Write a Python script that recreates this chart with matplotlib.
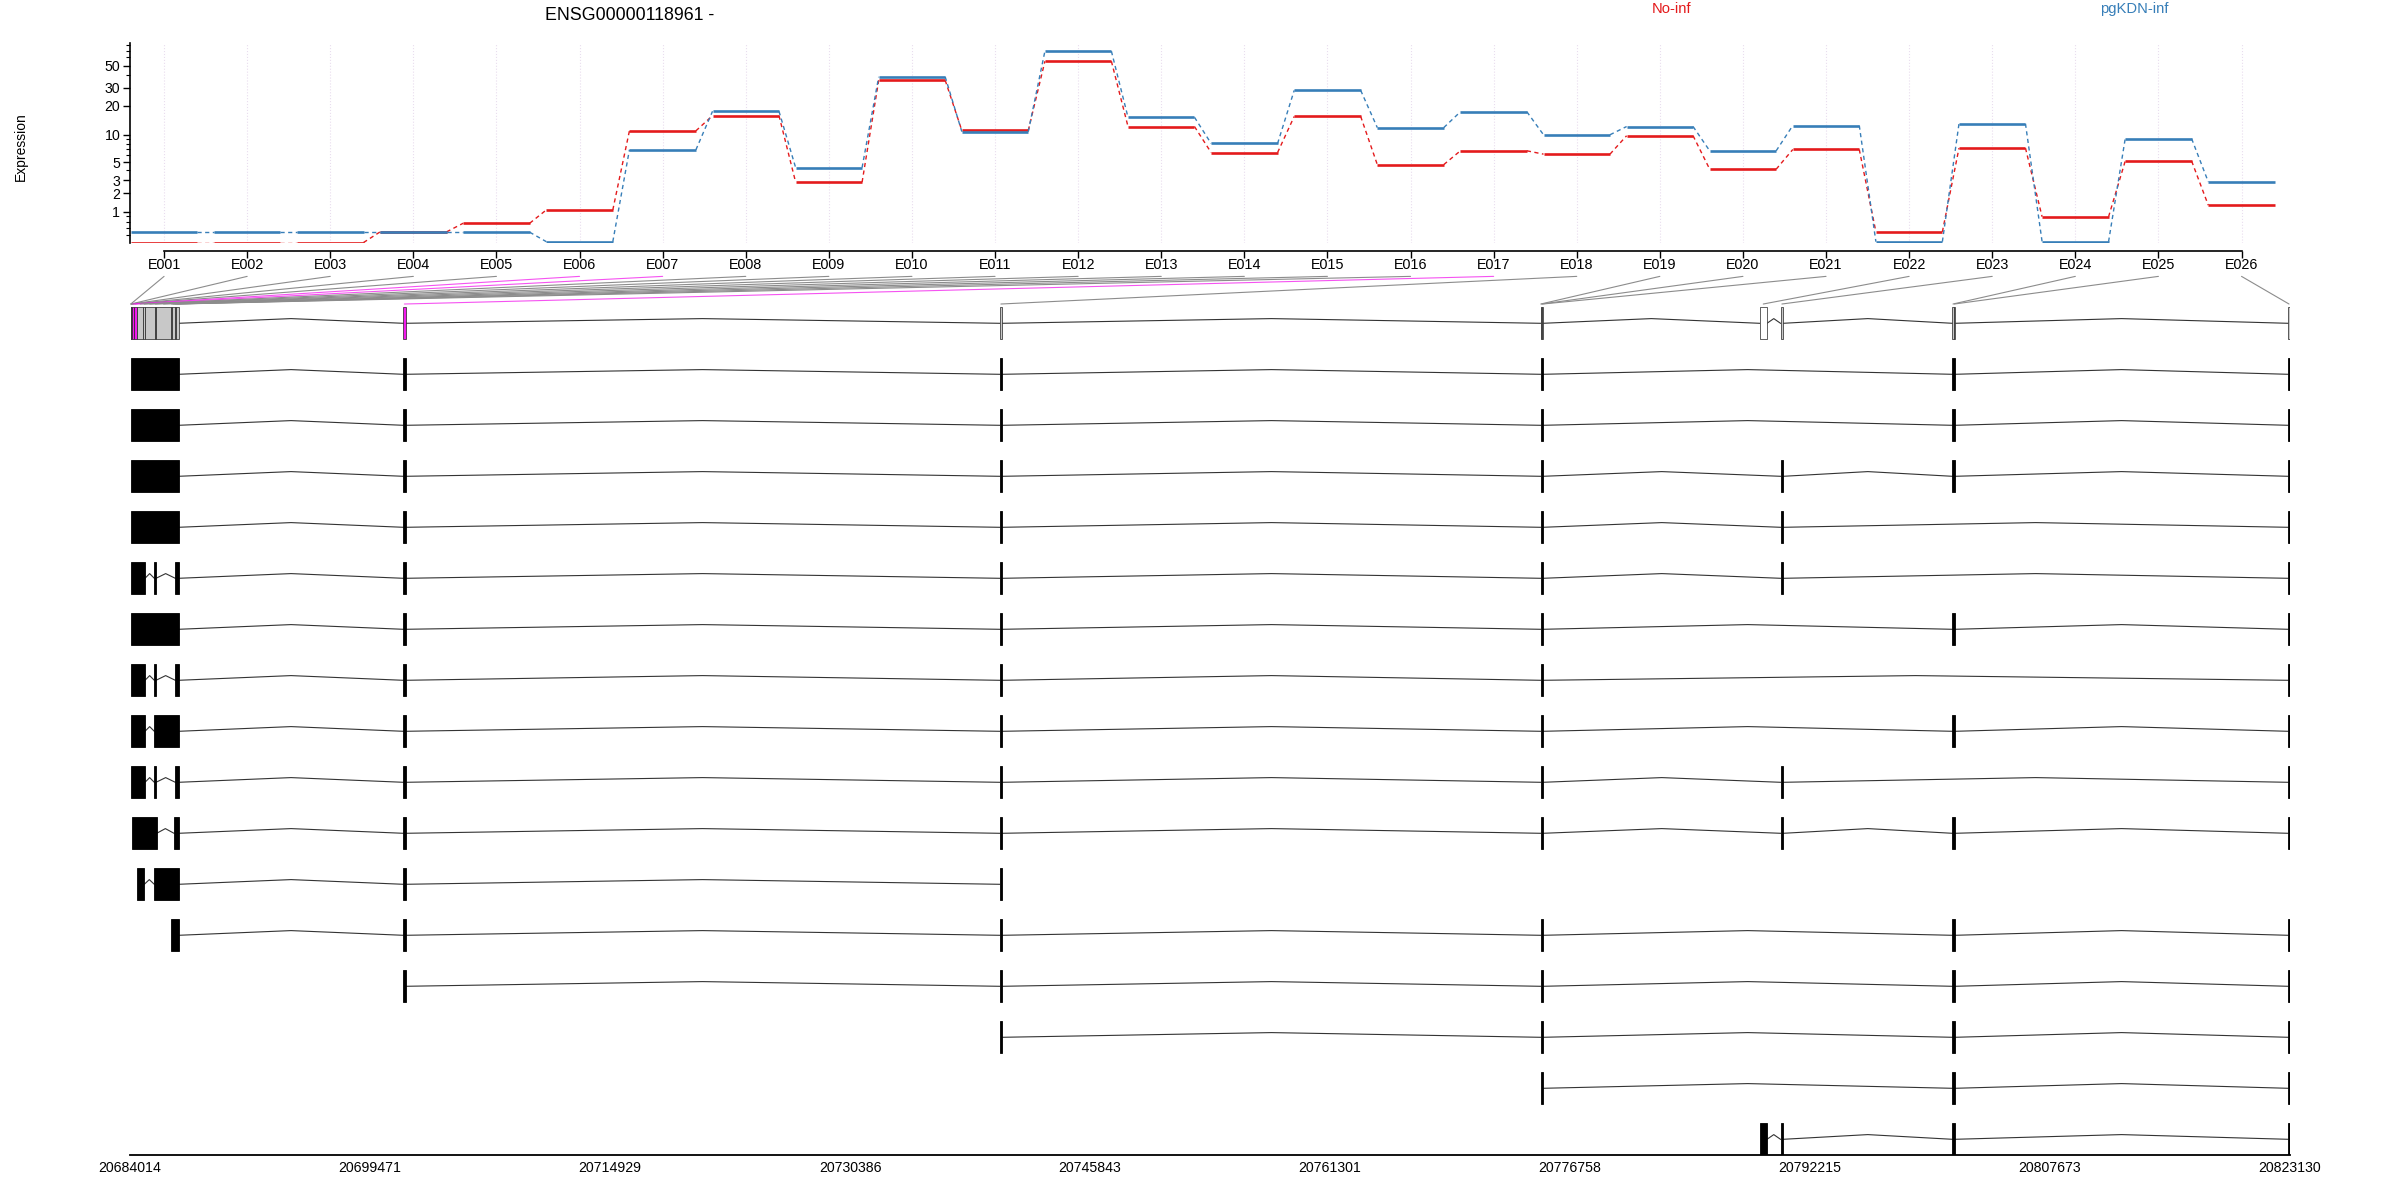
import numpy as np
import matplotlib.pyplot as plt
from matplotlib import font_manager
from matplotlib.patches import Rectangle, ConnectionPatch
from matplotlib.transforms import blended_transform_factory

plt.rcParams['font.family'] = ['Liberation Sans', 'DejaVu Sans']

# the reference text is a little condensed; use the narrow cut when present
avail = {f.name for f in font_manager.fontManager.ttflist}
if 'Liberation Sans Narrow' in avail:
    NARROW, K = ['Liberation Sans Narrow', 'DejaVu Sans'], 1.18
else:
    NARROW, K = ['Liberation Sans', 'DejaVu Sans'], 1.0

# fitted expression per exonic part
exons = ["E%03d" % i for i in range(1, 27)]
no_inf = [0.01, 0.01, 0.01, 0.28, 0.55, 1.08, 11.0, 15.8, 2.85, 35.8, 11.1, 55.1, 12.2,
          6.42, 15.5, 4.68, 6.71, 6.16, 9.76, 4.13, 6.94, 0.28, 7.19, 0.79, 5.13, 1.31]
pgkdn_inf = [0.27, 0.27, 0.27, 0.27, 0.27, 0.03, 6.88, 17.5, 4.32, 38.7, 10.8, 69.1, 15.2,
             8.07, 28.4, 11.9, 17.3, 10.0, 12.2, 6.71, 12.5, 0.03, 13.05, 0.03, 9.07, 2.87]
significant = ["E006", "E007", "E017"]
untested = ["E022"]

# genomic span of each exonic part
part_start = [20684059, 20684070, 20684081, 20684092, 20684103, 20684115, 20684270,
              20684446, 20684883, 20684967, 20685624, 20685676, 20686680, 20686719,
              20686912, 20686951, 20701616, 20740015, 20774859, 20774900, 20774960,
              20788964, 20790316, 20801381, 20801470, 20823002]
part_end = [20684070, 20684081, 20684092, 20684103, 20684115, 20684270, 20684446,
            20684883, 20684967, 20685624, 20685676, 20686680, 20686719, 20686912,
            20686951, 20687151, 20701758, 20740195, 20774900, 20774960, 20775020,
            20789447, 20790497, 20801470, 20801555, 20823130]

# transcript exons
tx_exons = {
    "full": (20684059, 20687151), "a": (20684059, 20684980), "b": (20685579, 20685689),
    "c": (20686932, 20687151), "d": (20685579, 20687151), "r10": (20684143, 20685734),
    "r10c": (20686848, 20687151), "r11": (20684446, 20684935), "r12": (20686655, 20687151),
    "B": (20701616, 20701758), "C": (20740015, 20740195), "D": (20774859, 20775020),
    "E": (20788964, 20789447), "F": (20790316, 20790497), "G": (20801381, 20801555),
    "H": (20823002, 20823130),
}
transcripts = [
    ["full", "B", "C", "D", "G", "H"],
    ["full", "B", "C", "D", "G", "H"],
    ["full", "B", "C", "D", "F", "G", "H"],
    ["full", "B", "C", "D", "F", "H"],
    ["a", "b", "c", "B", "C", "D", "F", "H"],
    ["full", "B", "C", "D", "G", "H"],
    ["a", "b", "c", "B", "C", "D", "H"],
    ["a", "d", "B", "C", "D", "G", "H"],
    ["a", "b", "c", "B", "C", "D", "F", "H"],
    ["r10", "r10c", "B", "C", "D", "F", "G", "H"],
    ["r11", "d", "B", "C"],
    ["r12", "B", "C", "D", "G", "H"],
    ["B", "C", "D", "G", "H"],
    ["C", "D", "G", "H"],
    ["D", "G", "H"],
    ["E", "F", "G", "H"],
]

gene_start, gene_end = 20684014, 20823130
gene_ticks = [20684014, 20699471, 20714929, 20730386, 20745843,
              20761301, 20776758, 20792215, 20807673, 20823130]

RED = "#E41A1C"
BLUE = "#377EB8"
MAGENTA = "#F219ED"

W, H = 2400, 1180
fig = plt.figure(figsize=(W / 100, H / 100), dpi=100)

# ---------------- expression panel ----------------
ax = fig.add_axes([130 / W, 1 - 243 / H, 2145.6 / W, 200 / H])
fwd = lambda v: np.log10(np.clip(v, 0, None) + 1)
inv = lambda u: 10 ** u - 1
ax.set_yscale('function', functions=(fwd, inv))
ax.set_xlim(0.59, 26.41)
ax.set_ylim(0, 83)

xs = np.arange(1, len(exons) + 1)
for i in xs:
    ax.axvline(i, color="#E9DDEE", ls=":", lw=0.8, zorder=0)
for vals, col in [(no_inf, RED), (pgkdn_inf, BLUE)]:
    for k, x in enumerate(xs):
        ax.plot([x - 0.4, x + 0.4], [vals[k], vals[k]], color=col, lw=1.9, solid_capstyle='butt')
        if k < len(xs) - 1:
            ax.plot([x + 0.4, x + 0.6], [vals[k], vals[k + 1]], color=col, lw=1.0,
                    ls=(0, (3, 2.5)))

ax.set_yticks([1, 2, 3, 5, 10, 20, 30, 50])
ax.set_yticklabels(["1", "2", "3", "5", "10", "20", "30", "50"], family=NARROW)
ax.set_yticks([0.2, 0.4, 0.6, 0.8, 4, 6, 7, 8, 9, 40, 60, 70, 80], minor=True)
ax.set_xticks(xs)
ax.set_xticklabels(exons, family=NARROW)
ax.tick_params(axis='x', length=5, width=1, labelsize=10.4 * K, pad=0)
ax.tick_params(axis='y', which='major', length=5, width=1, labelsize=10.2 * K, pad=2)
ax.tick_params(axis='y', which='minor', length=3, width=0.8)
for s in ["top", "right"]:
    ax.spines[s].set_visible(False)
ax.spines["bottom"].set_position(("outward", 6))
ax.spines["bottom"].set_bounds(1, 26)
ax.spines["bottom"].set_linewidth(1.2)
ax.spines["left"].set_linewidth(1.2)

fig.text(630 / W, 1 - 16 / H, "ENSG00000118961 -", ha="center", va="center",
         fontsize=12.8 * K, family=NARROW)
fig.text(1672 / W, 1 - 9 / H, "No-inf", color=RED, ha="center", va="center",
         fontsize=10.6 * K, family=NARROW)
fig.text(2134 / W, 1 - 9 / H, "pgKDN-inf", color=BLUE, ha="center", va="center",
         fontsize=10.6 * K, family=NARROW)
fig.text(21 / W, 1 - 147 / H, "Expression", rotation=90, ha="center", va="center", fontsize=10)

# ---------------- gene model panel ----------------
gx = fig.add_axes([130 / W, 1 - 1155 / H, 2160 / W, 885 / H])
gx.set_xlim(gene_start, gene_end)
gx.set_ylim(16.308, -1.045)
for s in ["top", "right", "left"]:
    gx.spines[s].set_visible(False)
gx.spines["bottom"].set_linewidth(1.3)
gx.set_yticks([])
gx.set_xticks(gene_ticks)
gx.set_xticklabels([str(t) for t in gene_ticks])
gx.tick_params(axis='x', length=0, labelsize=10.2, pad=4)

half = 0.314
peak = 0.092


def draw_introns(blocks, y):
    for (s0, e0), (s1, e1) in zip(blocks[:-1], blocks[1:]):
        mid = (e0 + s1) / 2
        gx.plot([e0, mid, s1], [y, y - peak, y], color="#333333", lw=0.8, zorder=1)


# row 0: collapsed exonic parts
blocks = []
for s, e in zip(part_start, part_end):
    if blocks and s == blocks[-1][1]:
        blocks[-1] = (blocks[-1][0], e)
    else:
        blocks.append((s, e))
draw_introns(blocks, 0)
for name, s, e in zip(exons, part_start, part_end):
    fc = MAGENTA if name in significant else ("white" if name in untested else "#C8C8C8")
    gx.add_patch(Rectangle((s, -half), e - s, 2 * half, facecolor=fc,
                           edgecolor="#222222", lw=0.5, zorder=2))

# transcripts
for r, tx in enumerate(transcripts, start=1):
    tb = [tx_exons[k] for k in tx]
    draw_introns(tb, r)
    for s, e in tb:
        gx.add_patch(Rectangle((s, r - half), e - s, 2 * half, facecolor="black",
                               edgecolor="black", lw=0.6, zorder=2))

# connectors from exon labels to genomic positions
top_tr = blended_transform_factory(ax.transData, gx.transData)
for k, name in enumerate(exons):
    mid = (part_start[k] + part_end[k]) / 2
    if name in significant:
        col, a = MAGENTA, 0.75
    else:
        col, a = "#8C8C8C", 1.0
    con = ConnectionPatch(xyA=(xs[k], -0.92), coordsA=top_tr, xyB=(mid, -0.378),
                          coordsB=gx.transData, color=col, alpha=a, lw=0.8,
                          shrinkA=0, shrinkB=0)
    fig.add_artist(con)

fig.savefig("out.png", dpi=100)
